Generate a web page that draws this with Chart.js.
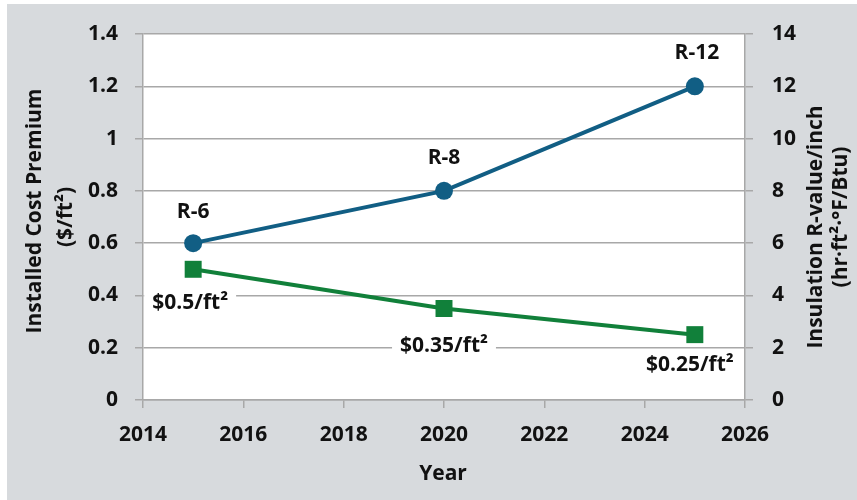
<!DOCTYPE html>
<html>
<head>
<meta charset="utf-8">
<script src="https://cdn.jsdelivr.net/npm/chart.js@4.4.0/dist/chart.umd.min.js"></script>
<style>
    body { margin: 0; background: #ffffff; }
    canvas { display: block; }
</style>
</head>
<body>
<canvas id="insulationChart" width="857" height="500"></canvas>
<script>
// Datos
const years = [2015, 2020, 2025];
const rValues = [6, 8, 12];
const costPremium = [0.5, 0.35, 0.25];
const rLabels = ['R-6', 'R-8', 'R-12'];
const costLabels = ['$0.5/ft²', '$0.35/ft²', '$0.25/ft²'];
const leftTickLabels = ['0', '0.2', '0.4', '0.6', '0.8', '1', '1.2', '1.4'];
const rightTickLabels = ['0', '2', '4', '6', '8', '10', '12', '14'];

const FONT = '"Open Sans", "Noto Sans", sans-serif';
const gridColor = '#a8a8a8';
const textColor = '#111111';
const blue = '#115e84';
const green = '#11803a';

// Fondo gris y area blanca
const backgroundPlugin = {
    id: 'background',
    beforeDraw(chart) {
        const ctx = chart.ctx;
        const a = chart.chartArea;
        ctx.save();
        ctx.fillStyle = '#d7dadd';
        ctx.fillRect(7, 4, chart.width - 7, chart.height - 4);
        ctx.fillStyle = '#ffffff';
        ctx.fillRect(a.left, a.top, a.right - a.left, a.bottom - a.top);
        ctx.restore();
    }
};

// Etiquetas de los puntos (con caja blanca para las de costo)
const blueOffsets = [[0, -31], [0, -33], [2, -33]];
const greenOffsets = [[-3, 34], [0, 38], [-5, 30]];

const labelPlugin = {
    id: 'pointLabels',
    beforeDatasetsDraw(chart) {
        const ctx = chart.ctx;
        const a = chart.chartArea;
        const meta = chart.getDatasetMeta(1);
        ctx.save();
        ctx.font = 'bold 21px ' + FONT;
        ctx.fillStyle = '#ffffff';
        meta.data.forEach((pt, i) => {
            const w = ctx.measureText(costLabels[i]).width + 16;
            const cx = pt.x + greenOffsets[i][0];
            const cy = pt.y + greenOffsets[i][1];
            let left = Math.max(a.left + 1, cx - w / 2);
            let right = Math.min(a.right - 1, cx + w / 2);
            ctx.fillRect(left, cy - 13, right - left, 26);
        });
        ctx.restore();
    },
    afterDatasetsDraw(chart) {
        const ctx = chart.ctx;
        ctx.save();
        ctx.font = 'bold 21px ' + FONT;
        ctx.fillStyle = textColor;
        ctx.textAlign = 'center';
        ctx.textBaseline = 'middle';
        chart.getDatasetMeta(0).data.forEach((pt, i) => {
            ctx.fillText(rLabels[i], pt.x + blueOffsets[i][0], pt.y + blueOffsets[i][1]);
        });
        chart.getDatasetMeta(1).data.forEach((pt, i) => {
            ctx.fillText(costLabels[i], pt.x + greenOffsets[i][0], pt.y + greenOffsets[i][1]);
        });
        ctx.restore();
    }
};

// Titulos de los ejes (ambos girados de abajo hacia arriba)
const titlePlugin = {
    id: 'axisTitles',
    afterDraw(chart) {
        const ctx = chart.ctx;
        ctx.save();
        ctx.font = 'bold 21px ' + FONT;
        ctx.fillStyle = textColor;
        ctx.textAlign = 'center';
        ctx.textBaseline = 'middle';

        const vertical = (text, x, y) => {
            ctx.save();
            ctx.translate(x, y);
            ctx.rotate(-Math.PI / 2);
            ctx.fillText(text, 0, 0);
            ctx.restore();
        };
        vertical('Installed Cost Premium', 35, 211);
        vertical('($/ft²)', 66, 217);
        vertical('Insulation R-value/inch', 816, 227);
        vertical('(hr·ft²·°F/Btu)', 841, 217);

        ctx.fillText('Year', 443, 474);
        ctx.restore();
    }
};

document.addEventListener('DOMContentLoaded', function () {
    const ctx = document.getElementById('insulationChart').getContext('2d');
    const tickFont = { family: FONT, size: 21, weight: 'bold' };

    new Chart(ctx, {
        type: 'line',
        data: {
            datasets: [{
                label: 'R-value',
                data: years.map((x, i) => ({ x: x, y: rValues[i] })),
                yAxisID: 'y2',
                borderColor: blue,
                backgroundColor: blue,
                borderWidth: 4,
                pointStyle: 'circle',
                pointRadius: 9,
                pointBorderWidth: 0,
                tension: 0
            }, {
                label: 'Cost',
                data: years.map((x, i) => ({ x: x, y: costPremium[i] })),
                yAxisID: 'y',
                borderColor: green,
                backgroundColor: green,
                borderWidth: 4,
                pointStyle: 'rect',
                pointRadius: 12,
                pointBorderWidth: 0,
                tension: 0
            }]
        },
        options: {
            responsive: false,
            animation: false,
            layout: { padding: { top: 34, left: 0, right: 0, bottom: 0 } },
            plugins: {
                legend: { display: false },
                tooltip: { enabled: false }
            },
            scales: {
                x: {
                    type: 'linear',
                    min: 2014,
                    max: 2026,
                    ticks: {
                        stepSize: 2,
                        color: textColor,
                        font: tickFont,
                        padding: 14,
                        callback: v => String(v)
                    },
                    grid: {
                        drawOnChartArea: false,
                        color: gridColor,
                        lineWidth: 1.5,
                        tickLength: 8
                    },
                    border: { color: gridColor, width: 1.5 },
                    afterFit: s => { s.height = 100; }
                },
                y: {
                    position: 'left',
                    min: 0,
                    max: 1.4,
                    ticks: {
                        stepSize: 0.2,
                        color: textColor,
                        font: tickFont,
                        padding: 17,
                        callback: (v, i) => leftTickLabels[i]
                    },
                    grid: {
                        color: gridColor,
                        lineWidth: 1.5,
                        tickLength: 8
                    },
                    border: { color: gridColor, width: 1.5 },
                    afterFit: s => { s.width = 143; }
                },
                y2: {
                    position: 'right',
                    min: 0,
                    max: 14,
                    ticks: {
                        stepSize: 2,
                        color: textColor,
                        font: tickFont,
                        padding: 19,
                        callback: (v, i) => rightTickLabels[i]
                    },
                    grid: {
                        drawOnChartArea: false,
                        color: gridColor,
                        lineWidth: 1.5,
                        tickLength: 8
                    },
                    border: { color: gridColor, width: 1.5 },
                    afterFit: s => { s.width = 112; }
                }
            }
        },
        plugins: [backgroundPlugin, labelPlugin, titlePlugin]
    });
});
</script>
</body>
</html>
